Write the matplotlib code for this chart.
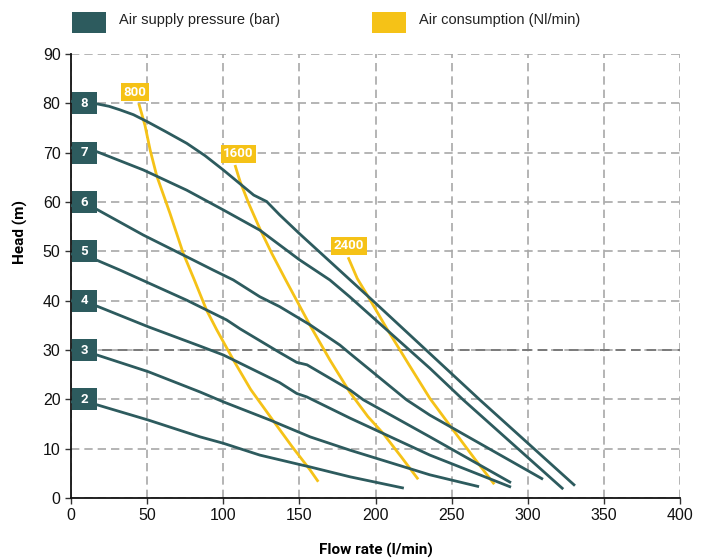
import matplotlib.pyplot as plt
from matplotlib.patches import Rectangle

TEAL = '#2d5b5e'
YELLOW = '#f5c217'

# curvas de presión de alimentación (bar): caudal l/min, altura m
pressures = [2, 3, 4, 5, 6, 7, 8]
flow_2 = [0, 17, 50.8, 84.7, 100, 124, 150, 157, 183.2, 218.6]
head_2 = [19.5, 18.9, 15.8, 12.4, 11.1, 8.7, 6.8, 6.3, 4.3, 2.0]
flow_3 = [0, 17, 50.8, 84.7, 100, 130.7, 157, 183.2, 235.7, 268]
head_3 = [30, 29, 25.6, 21.5, 19.5, 15.8, 12.4, 9.7, 4.7, 2.3]
flow_4 = [0, 17, 50.8, 84.7, 100, 137, 148.2, 154.8, 183.2, 235.7, 289]
head_4 = [40, 38.9, 34.7, 30.8, 29, 23.4, 21.2, 20.5, 16.2, 8.7, 2.2]
flow_5 = [0, 17, 32.2, 76, 102.2, 111, 137, 148.2, 155, 183.2, 192, 235.7, 289]
head_5 = [49.5, 48.2, 46.2, 40.1, 36.1, 34.3, 29.5, 27.5, 27.0, 21.9, 19.9, 12.4, 3.1]
flow_6 = [0, 17, 47.5, 76, 93.4, 106.6, 124, 137, 157, 176.6, 183.2, 220.4, 235.7, 310]
head_6 = [59.3, 58.5, 53.3, 48.9, 46.2, 44.2, 40.8, 38.8, 35.1, 31, 29.3, 19.9, 16.8, 3.8]
flow_7 = [0, 17, 47.5, 76, 100, 124, 150, 170, 183, 235.7, 257.6, 323.3]
head_7 = [71, 70.2, 66.5, 62.4, 58.4, 54.3, 48.3, 44.2, 40.8, 26.3, 19.9, 1.8]
flow_8 = [0, 17, 25, 32, 41, 50, 62, 76, 88, 100, 120, 128.5, 137, 150, 200, 268.5, 331]
head_8 = [80.4, 79.9, 79.4, 78.7, 77.7, 76.3, 74.3, 71.9, 69.4, 66.5, 61.4, 60.1, 57.4, 53.6, 39.5, 19.9, 2.5]

# curvas de consumo de aire (Nl/min)
consumptions = [800, 1600, 2400]
flow_800 = [44.5, 48.6, 52, 56.3, 65, 73.7, 81, 89, 95.7, 106.6, 118, 132, 145, 157, 162.4]
head_800 = [80.0, 75.5, 70.5, 65.3, 57.7, 49.6, 44.2, 38.1, 34.1, 28, 22, 16, 10.5, 5.7, 3.3]
flow_1600 = [107.7, 111, 117, 124, 132, 141, 157, 170, 183, 195, 205, 217, 228]
head_1600 = [67.5, 64.2, 59.5, 54.6, 49.5, 44.2, 35, 28, 21.5, 16.5, 13.1, 8.3, 3.8]
flow_2400 = [182, 188, 195.2, 207.3, 222, 235.7, 251, 265, 278]
head_2400 = [48.8, 44.5, 40.8, 34.4, 27, 20.2, 13.8, 8, 2.8]

pressure_curves = [(flow_2, head_2), (flow_3, head_3), (flow_4, head_4), (flow_5, head_5),
                   (flow_6, head_6), (flow_7, head_7), (flow_8, head_8)]
air_curves = [(flow_800, head_800), (flow_1600, head_1600), (flow_2400, head_2400)]

plt.rcParams['font.family'] = ['Liberation Sans', 'DejaVu Sans']

fig = plt.figure(figsize=(7.06, 5.58), dpi=100)
ax = fig.add_axes([0.1006, 0.1075, 0.8626, 0.7957])

for (q, h) in pressure_curves:
    ax.plot(q, h, color=TEAL, linewidth=2.0, solid_capstyle='butt', zorder=3)
for (q, h) in air_curves:
    ax.plot(q, h, color=YELLOW, linewidth=2.0, solid_capstyle='butt', zorder=2)

# etiquetas de presión al inicio de cada curva
for p in pressures:
    ax.add_patch(Rectangle((0.6, p * 10 - 2.25), 16.4, 4.5, facecolor=TEAL,
                           edgecolor='none', zorder=5, clip_on=False))
    ax.text(8.8, p * 10, str(p), color='white', fontsize=9.5, fontweight='bold',
            ha='center', va='center', family='Roboto', zorder=6)

# etiquetas de consumo encima del extremo superior de cada curva
label_shift = [-2.5, 2.3, 0.5]
for c, dx, (q, h) in zip(consumptions, label_shift, air_curves):
    ax.text(q[0] + dx, h[0] + 2.3, str(c), color='white', fontsize=9.5,
            fontweight='bold', ha='center', va='center', family='Roboto', zorder=6,
            bbox=dict(boxstyle='square,pad=0.2', facecolor=YELLOW, edgecolor='none'))

ax.set_xlim(0, 400)
ax.set_ylim(0, 90)
ax.set_xticks(range(0, 401, 50))
ax.set_yticks(range(0, 91, 10))
ax.grid(True, color='#a8a8a8', linestyle=(0, (5, 3)), linewidth=1.2, zorder=0)
ax.axhline(30, color='#7a7a7a', linestyle=(0, (5, 3)), linewidth=1.4, zorder=1)
ax.set_axisbelow(True)

for s in ['top', 'right']:
    ax.spines[s].set_visible(False)
for s in ['left', 'bottom']:
    ax.spines[s].set_linewidth(1.3)
    ax.spines[s].set_color('#111111')
ax.tick_params(axis='both', labelsize=11.5, length=4, width=1.0, color='#333333',
               labelcolor='#111111')

ax.set_xlabel('Flow rate (l/min)', fontsize=11, fontweight='bold', family='Roboto',
              labelpad=14)
ax.set_ylabel('Head (m)', fontsize=11, fontweight='bold', family='Roboto')
ax.yaxis.set_label_coords(-0.07, 0.6)

# leyenda superior
fig.patches.append(Rectangle((72 / 706, 1 - 33 / 558), 34 / 706, 21 / 558, facecolor=TEAL,
                             transform=fig.transFigure, figure=fig))
fig.text(119 / 706, 1 - 20 / 558, 'Air supply pressure (bar)', fontsize=10.5,
         color='#222222', va='center')
fig.patches.append(Rectangle((372 / 706, 1 - 33 / 558), 34 / 706, 21 / 558, facecolor=YELLOW,
                             transform=fig.transFigure, figure=fig))
fig.text(419 / 706, 1 - 20 / 558, 'Air consumption (Nl/min)', fontsize=10.5,
         color='#222222', va='center')

fig.savefig('out.png', dpi=100)
